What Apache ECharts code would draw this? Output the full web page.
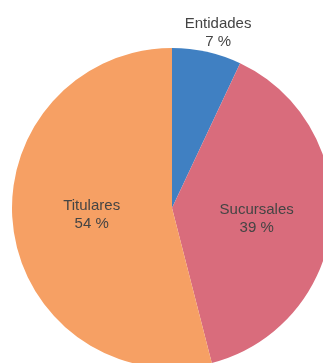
<!DOCTYPE html>
<html>
<head>
<meta charset="utf-8">
<script src="https://cdn.jsdelivr.net/npm/echarts@6/dist/echarts.min.js"></script>
<style>
  html, body { margin: 0; padding: 0; background: #ffffff; }
  #chart { width: 323px; height: 363px; }
</style>
</head>
<body>
<div id="chart"></div>
<script>
// Distribution shares (percent)
const categories = ['Entidades', 'Sucursales', 'Titulares'];
const shares = [7, 39, 54];
const sliceColors = ['#4080c2', '#d96c7c', '#f6a064'];

const chart = echarts.init(document.getElementById('chart'), null, { renderer: 'canvas' });

const labelBase = {
  show: true,
  position: 'inside',
  formatter: '{b}\n{c} %',
  color: '#444444',
  fontFamily: 'Liberation Sans, Arial, sans-serif',
  fontSize: 15,
  lineHeight: 18,
  align: 'center'
};

// label nudges per slice; the small slice's label sits above the pie
const labelOffsets = { Entidades: [28, -94], Sucursales: [2, 3], Titulares: [2, -4] };

const data = categories.map((name, i) => ({
  name: name,
  value: shares[i],
  itemStyle: { color: sliceColors[i] },
  label: Object.assign({}, labelBase, { offset: labelOffsets[name] })
}));

chart.setOption({
  animation: false,
  series: [{
    type: 'pie',
    center: [172, 208],
    radius: 160,
    startAngle: 90,
    clockwise: true,
    avoidLabelOverlap: false,
    label: labelBase,
    labelLine: { show: false },
    itemStyle: { borderWidth: 0 },
    emphasis: { disabled: true },
    data: data
  }]
});
</script>
</body>
</html>
